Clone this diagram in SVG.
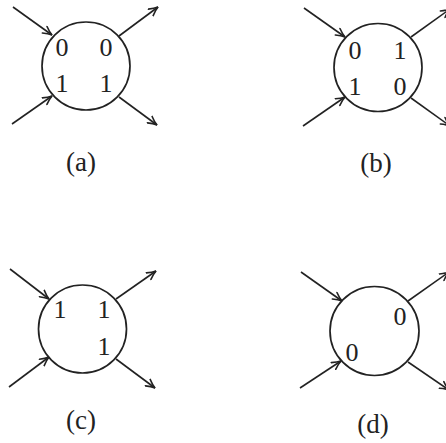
<svg xmlns="http://www.w3.org/2000/svg" width="446" height="443" viewBox="0 0 446 443">
<defs>
<marker id="ah" viewBox="-10 -5 12 10" markerWidth="12" markerHeight="10" refX="0" refY="0" orient="auto" markerUnits="userSpaceOnUse">
<path d="M-9,-4 Q-4,-1 0,0 Q-4,1 -9,4" fill="none" stroke="#222" stroke-width="1.6" stroke-linecap="round"/>
</marker>
</defs>
<style>
.c{fill:none;stroke:#222;stroke-width:1.7}
.a{stroke:#222;stroke-width:1.6;fill:none;marker-end:url(#ah)}
text{font-family:"Liberation Serif","Times New Roman",serif;fill:#222;text-anchor:middle}
.d{font-size:26px}
.l{font-size:27px}
</style>
<g id="node-a" font-family="Liberation Serif, serif">
<circle class="c" cx="86" cy="66" r="44"/>
<text class="d" x="62" y="56">0</text>
<text class="d" x="106" y="56">0</text>
<text class="d" x="62" y="92">1</text>
<text class="d" x="106" y="92">1</text>
<text class="l" x="81" y="171">(a)</text>
</g>
<g id="node-b">
<circle class="c" cx="378" cy="67.5" r="44"/>
<text class="d" x="355" y="59">0</text>
<text class="d" x="400" y="59">1</text>
<text class="d" x="355" y="95">1</text>
<text class="d" x="400" y="95">0</text>
<text class="l" x="376" y="172">(b)</text>
</g>
<g id="node-c">
<circle class="c" cx="82.5" cy="329" r="44"/>
<text class="d" x="60" y="318">1</text>
<text class="d" x="104" y="318">1</text>
<text class="d" x="104" y="355">1</text>
<text class="l" x="81" y="429">(c)</text>
</g>
<g id="node-d">
<circle class="c" cx="374.5" cy="331" r="44.5"/>
<text class="d" x="400" y="325">0</text>
<text class="d" x="352" y="361">0</text>
<text class="l" x="373" y="433">(d)</text>
</g>
<g id="connectors">
<line class="a" x1="13" y1="7" x2="52" y2="35"/>
<line class="a" x1="12" y1="124" x2="52" y2="96"/>
<line class="a" x1="119" y1="36" x2="158" y2="7"/>
<line class="a" x1="119" y1="97" x2="157" y2="125"/>
<line class="a" x1="304" y1="8" x2="345" y2="37"/>
<line class="a" x1="303" y1="126" x2="345" y2="97"/>
<line class="a" x1="411" y1="37" x2="450" y2="9"/>
<line class="a" x1="411" y1="98" x2="450" y2="126"/>
<line class="a" x1="10" y1="269" x2="49" y2="299"/>
<line class="a" x1="9" y1="387" x2="49" y2="357"/>
<line class="a" x1="116" y1="299" x2="156" y2="271"/>
<line class="a" x1="116" y1="359" x2="155" y2="388"/>
<line class="a" x1="301" y1="272" x2="342" y2="301"/>
<line class="a" x1="300" y1="388" x2="341" y2="361"/>
<line class="a" x1="408" y1="301" x2="449" y2="272"/>
<line class="a" x1="408" y1="362" x2="449" y2="390"/>
</g>
</svg>
